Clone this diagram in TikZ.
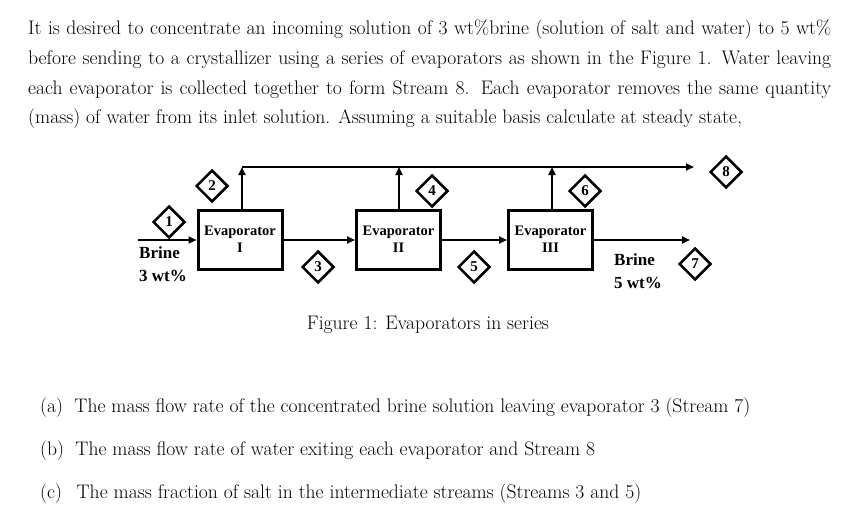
\documentclass[tikz,border=0pt]{standalone}
\usepackage{fontspec}
\newfontfamily\tnr{Liberation Serif}
\usetikzlibrary{shapes.geometric,arrows.meta}
\begin{document}
\begin{tikzpicture}[x=1pt,y=-1pt,
 evap/.style={draw,line width=3pt,minimum width=84pt,minimum height=59pt,inner sep=0pt},
 tag/.style={draw,diamond,line width=2.5pt,minimum width=32pt,minimum height=32pt,inner sep=0pt,font=\tnr\bfseries\fontsize{15}{15}\selectfont},
 flow/.style={line width=2pt,-{Triangle[length=8pt,width=7pt]}},
 body/.style={font=\fontsize{19.6}{20}\selectfont},
 lbl/.style={font=\tnr\bfseries\fontsize{17}{23}\selectfont,align=left,inner sep=0pt}]
\useasboundingbox (0,0) rectangle (853,524);
\node[anchor=north west,inner sep=0pt,text width=803pt,align=justify,font=\fontsize{19.6}{29.6}\selectfont] (para) at (28,20)
{It is desired to concentrate an incoming solution of 3 wt\%brine (solution of salt and water) to 5 wt\% \linebreak before sending to a crystallizer using a series of evaporators as shown in the Figure 1. Water leaving \linebreak each evaporator is collected together to form Stream 8. Each evaporator removes the same quantity \linebreak (mass) of water from its inlet solution. Assuming a suitable basis calculate at steady state,};
\node[evap,font=\tnr\bfseries\fontsize{14.5}{17}\selectfont,align=center] (e1) at (240,239.5) {Evaporator\\I};
\node[evap,font=\tnr\bfseries\fontsize{14.5}{17}\selectfont,align=center] (e2) at (398.5,239.5) {Evaporator\\II};
\node[evap,font=\tnr\bfseries\fontsize{14.5}{17}\selectfont,align=center] (e3) at (550.5,239.5) {Evaporator\\III};
\coordinate (in) at (138,240);
\coordinate (out) at (690,240);
\coordinate (t1) at (242,167);
\coordinate (t2) at (399,167);
\coordinate (t3) at (552,167);
\coordinate (tend) at (694,167);
\draw[flow] (in) -- (e1.west |- in);
\draw[flow] (e1.east |- in) -- (e2.west |- in);
\draw[flow] (e2.east |- in) -- (e3.west |- in);
\draw[flow] (e3.east |- in) -- (out);
\draw[flow] (t1 |- e1.north) -- (t1);
\draw[flow] (t2 |- e2.north) -- (t2);
\draw[flow] (t3 |- e3.north) -- (t3);
\draw[flow] (t1) -- (tend);
\node[tag] (s1) at (169,222) {1};
\node[tag] (s2) at (212,186) {2};
\node[tag] (s3) at (318,267) {3};
\node[tag] (s4) at (432,191) {4};
\node[tag] (s5) at (474,267) {5};
\node[tag] (s6) at (585,191) {6};
\node[tag] (s7) at (695,264) {7};
\node[tag] (s8) at (726,172) {8};
\node[lbl,anchor=north west] (b1) at (139,247) {Brine\\3 wt\%};
\node[lbl,anchor=north west] (b2) at (614,254) {Brine\\5 wt\%};
\node[body] (cap) at (428,325) {Figure 1: Evaporators in series};
\node[body,anchor=west,inner sep=0pt] (qa) at (40,408) {(a)\; The mass flow rate of the concentrated brine solution leaving evaporator 3 (Stream 7)};
\node[body,anchor=west,inner sep=0pt] (qb) at (40,451) {(b)\; The mass flow rate of water exiting each evaporator and Stream 8};
\node[body,anchor=west,inner sep=0pt] (qc) at (40,494) {(c)\;\, The mass fraction of salt in the intermediate streams (Streams 3 and 5)};
\end{tikzpicture}
\end{document}
